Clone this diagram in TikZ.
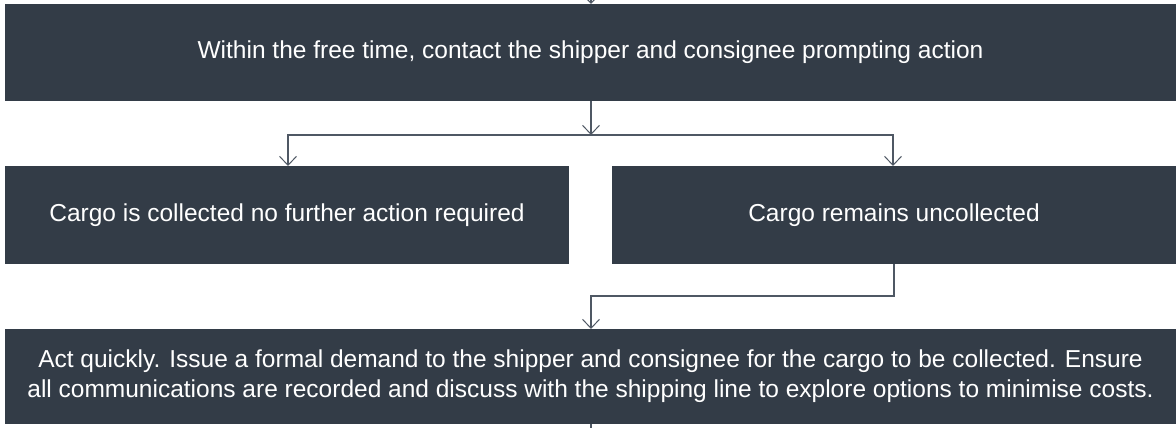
\documentclass[tikz,border=0pt]{standalone}
\usepackage{fontspec}
\setmainfont{Liberation Sans}
\usetikzlibrary{arrows.meta}
\definecolor{boxc}{HTML}{333C47}
\definecolor{linec}{HTML}{4F5864}
\begin{document}
\begin{tikzpicture}[x=1pt,y=-1pt,
  box/.style={fill=boxc,draw=none,text=white,font=\fontsize{24.5}{30}\selectfont,align=center,inner sep=0pt},
  conn/.style={draw=linec,line width=1.2pt,-{Straight Barb[length=9pt,width=17pt,line width=1pt]}},
  tail/.style={draw=linec,line width=1.2pt}]
\useasboundingbox (0,0) rectangle (1176,428);
\fill[boxc] (5,4) rectangle (1176,101);
\node[box] (b1) at (590.5,52.5) {Within the free time, contact the shipper and consignee prompting action};
\fill[boxc] (5,166) rectangle (569,264);
\node[box] (b2) at (287,215) {Cargo is collected no further action required};
\fill[boxc] (612,166) rectangle (1176,264);
\node[box] (b3) at (894,215) {Cargo remains uncollected};
\fill[boxc] (5,329) rectangle (1176,424);
\node[box] (b4) at (590.5,376.5) {Act quickly. Issue a formal demand to the shipper and consignee for the cargo to be collected. Ensure\\all communications are recorded and discuss with the shipping line to explore options to minimise costs.};
\coordinate (b1t) at (591,4);
\coordinate (b1b) at (591,101);
\coordinate (top) at (591,-6);
\coordinate (split) at (591,135);
\coordinate (b2t) at (288,166);
\coordinate (b3t) at (893,166);
\coordinate (b3b) at (894,264);
\coordinate (b4t) at (591,329);
\coordinate (b4b) at (591,424);
\coordinate (bot) at (591,440);
\draw[conn] (top) -- (b1t);
\draw[conn] (b1b) -- (split);
\draw[conn] (split) -| (b2t);
\draw[conn] (split) -| (b3t);
\draw[conn] (b3b) |- (591,296) -- (b4t);
\draw[tail] (b4b) -- (bot);
\end{tikzpicture}
\end{document}
